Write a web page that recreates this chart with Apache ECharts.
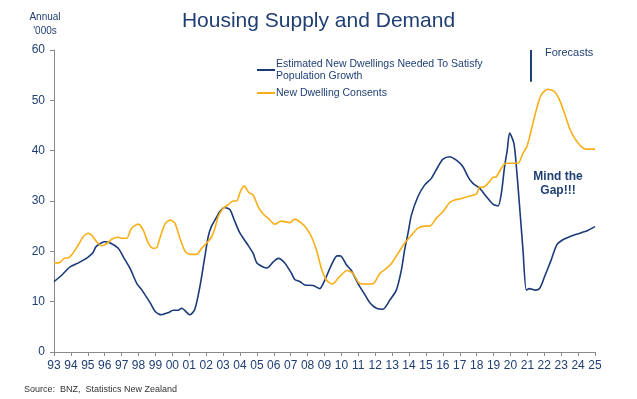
<!DOCTYPE html>
<html>
<head>
<meta charset="utf-8">
<script src="https://cdn.jsdelivr.net/npm/echarts@6.0.0/dist/echarts.min.js"></script>
<style>
  html, body { margin: 0; padding: 0; background: #fff; }
  #chart { width: 637px; height: 399px; }
</style>
</head>
<body>
<div id="chart"></div>
<script>
// Housing supply vs demand, NZ (annual, '000s)
const needName = 'Estimated New Dwellings Needed To Satisfy Population Growth';
const consentName = 'New Dwelling Consents';

const needYears = [
  1993.0, 1993.5, 1993.95, 1994.5, 1995.0, 1995.3, 1995.5, 1996.0, 1996.3, 1996.8,
  1997.1, 1997.5, 1997.9, 1998.2, 1998.7, 1999.0, 1999.35, 1999.75, 2000.05, 2000.35,
  2000.55, 2001.04, 2001.33, 2001.63, 2001.92, 2002.12, 2002.32, 2002.62, 2002.81, 2003.1,
  2003.4, 2003.7, 2004.0, 2004.4, 2004.78, 2005.0, 2005.37, 2005.6, 2005.97, 2006.26,
  2006.65, 2007.05, 2007.24, 2007.54, 2007.84, 2008.33, 2008.72, 2009.02, 2009.41, 2009.74,
  2009.94, 2010.3, 2010.59, 2010.98, 2011.37, 2011.68, 2012.07, 2012.46, 2012.86, 2013.25,
  2013.55, 2013.74, 2013.94, 2014.14, 2014.53, 2014.93, 2015.32, 2015.71, 2016.01, 2016.4,
  2016.8, 2017.19, 2017.49, 2017.78, 2018.18, 2018.57, 2018.96, 2019.26, 2019.46, 2019.65,
  2019.81, 2019.95, 2020.2, 2020.35, 2020.54, 2020.74, 2020.94, 2021.13, 2021.43, 2021.72,
  2022.02, 2022.41, 2022.74, 2023.1, 2023.5, 2024.1, 2024.6, 2025.0
];
const needValues = [
  14.0, 15.4, 16.9, 17.8, 18.8, 19.7, 21.0, 21.9, 21.7, 20.6,
  18.9, 16.6, 13.6, 12.3, 9.7, 8.0, 7.4, 7.8, 8.3, 8.3,
  8.7, 7.4, 8.5, 13.0, 18.9, 22.9, 25.0, 26.8, 27.9, 28.7,
  28.3, 25.9, 23.6, 21.6, 19.6, 17.7, 16.9, 16.7, 17.9, 18.6,
  17.7, 15.6, 14.4, 14.0, 13.3, 13.2, 12.6, 14.3, 17.3, 19.1,
  19.1, 17.3, 16.2, 13.6, 11.5, 9.8, 8.7, 8.5, 10.3, 12.3,
  16.3, 20.3, 23.6, 27.2, 30.9, 33.2, 34.5, 36.8, 38.3, 38.8,
  38.1, 36.8, 34.8, 33.5, 32.5, 30.9, 29.4, 29.0, 31.5, 36.8,
  40.1, 43.5, 41.5, 36.8, 28.9, 20.3, 12.3, 12.6, 12.3, 12.6,
  15.0, 18.3, 21.3, 22.3, 22.9, 23.6, 24.2, 24.9
];

const consentYears = [
  1993.0, 1993.35, 1993.6, 1993.85, 1994.05, 1994.44, 1994.73, 1995.03, 1995.23, 1995.52,
  1995.82, 1996.11, 1996.41, 1996.8, 1997.0, 1997.3, 1997.59, 1997.98, 1998.28, 1998.57,
  1998.87, 1999.07, 1999.26, 1999.56, 1999.86, 2000.15, 2000.45, 2000.74, 2001.04, 2001.43,
  2001.73, 2002.02, 2002.32, 2002.52, 2002.71, 2003.0, 2003.3, 2003.6, 2003.8, 2004.03,
  2004.25, 2004.52, 2004.78, 2005.07, 2005.37, 2005.66, 2006.06, 2006.45, 2006.95, 2007.24,
  2007.64, 2007.93, 2008.23, 2008.52, 2008.82, 2009.11, 2009.47, 2009.9, 2010.33, 2010.69,
  2011.08, 2011.58, 2011.9, 2012.27, 2012.66, 2012.96, 2013.35, 2013.74, 2014.14, 2014.53,
  2014.93, 2015.22, 2015.62, 2016.01, 2016.4, 2016.7, 2017.0, 2017.29, 2017.59, 2017.99,
  2018.18, 2018.37, 2018.67, 2018.96, 2019.16, 2019.46, 2019.71, 2020.44, 2020.74, 2020.97,
  2021.23, 2021.53, 2021.82, 2022.21, 2022.61, 2022.9, 2023.2, 2023.5, 2023.79, 2024.19,
  2024.48, 2025.0
];
const consentValues = [
  17.7, 17.8, 18.6, 18.7, 19.3, 21.3, 22.9, 23.6, 23.2, 21.9,
  21.1, 21.5, 22.4, 22.8, 22.6, 22.6, 24.6, 25.4, 24.2, 21.7,
  20.6, 20.7, 22.6, 25.4, 26.2, 25.6, 22.6, 20.1, 19.4, 19.4,
  20.6, 21.6, 22.9, 24.6, 26.9, 28.5, 29.3, 30.0, 30.0, 31.9,
  33.0, 31.7, 31.2, 28.9, 27.4, 26.6, 25.4, 26.0, 25.7, 26.4,
  25.6, 24.6, 22.9, 20.3, 16.6, 14.3, 13.5, 15.0, 16.2, 15.6,
  13.6, 13.5, 13.6, 15.6, 16.6, 17.6, 19.6, 21.6, 23.2, 24.6,
  25.0, 25.0, 26.6, 27.9, 29.7, 30.2, 30.4, 30.7, 31.0, 31.4,
  32.8, 32.7, 33.5, 34.7, 34.8, 36.5, 37.5, 37.5, 39.5, 40.8,
  44.1, 48.1, 51.1, 52.2, 51.7, 50.1, 47.4, 44.4, 42.5, 40.8,
  40.3, 40.3
];

// forecast divider (year, from, to)
const forecastMark = [2021.18, 53.7, 60];

const navy = '#1F3F73';
const blue = '#1B3A7A';
const orange = '#F8AE16';
const font = '"Liberation Sans", Arial, sans-serif';

const zip = (xs, ys) => xs.map((x, i) => [x, ys[i]]);

const chart = echarts.init(document.getElementById('chart'));

chart.setOption({
  backgroundColor: '#fff',
  animation: false,
  textStyle: { fontFamily: font },
  title: {
    text: 'Housing Supply and Demand',
    left: 'center',
    top: 11,
    padding: 0,
    textStyle: { color: navy, fontSize: 21, fontWeight: 'normal', fontFamily: font }
  },
  legend: {
    orient: 'vertical',
    left: 256,
    top: 58,
    padding: 0,
    itemWidth: 18,
    itemHeight: 2,
    itemGap: 5,
    textStyle: { color: navy, fontSize: 10.5, fontFamily: font, lineHeight: 12, padding: [0, 0, 0, -4] },
    formatter: name => name === needName
      ? 'Estimated New Dwellings Needed To Satisfy\nPopulation Growth'
      : name,
    data: [needName, consentName]
  },
  grid: { left: 54, right: 42, top: 50, bottom: 47 },
  xAxis: {
    type: 'value',
    min: 1993,
    max: 2025,
    interval: 1,
    splitLine: { show: false },
    axisLine: { show: true, lineStyle: { color: '#8a8a8a', width: 1 } },
    axisTick: { show: true, length: 4, lineStyle: { color: '#8a8a8a' } },
    axisLabel: {
      color: navy,
      fontSize: 12,
      margin: 8,
      formatter: v => String(Math.round(v) % 100).padStart(2, '0')
    }
  },
  yAxis: {
    type: 'value',
    min: 0,
    max: 60,
    interval: 10,
    splitLine: { show: false },
    axisLine: { show: true, lineStyle: { color: '#8a8a8a', width: 1 } },
    axisTick: { show: true, length: 4, lineStyle: { color: '#8a8a8a' } },
    axisLabel: { color: navy, fontSize: 12, margin: 9 }
  },
  series: [
    {
      name: needName,
      type: 'line',
      data: zip(needYears, needValues),
      symbol: 'none',
      smooth: 0.25,
      lineStyle: { color: blue, width: 1.6 },
      itemStyle: { color: blue },
      markLine: {
        silent: true,
        symbol: 'none',
        label: { show: false },
        lineStyle: { color: navy, width: 2, type: 'solid' },
        data: [[
          { coord: [forecastMark[0], forecastMark[1]] },
          { coord: [forecastMark[0], forecastMark[2]] }
        ]]
      }
    },
    {
      name: consentName,
      type: 'line',
      data: zip(consentYears, consentValues),
      symbol: 'none',
      smooth: 0.25,
      lineStyle: { color: orange, width: 1.6 },
      itemStyle: { color: orange }
    }
  ],
  graphic: [
    {
      type: 'text', x: 45, y: 10,
      style: {
        text: "Annual\n'000s", fill: navy, font: '10px ' + font,
        align: 'center', verticalAlign: 'top', lineHeight: 14
      }
    },
    {
      type: 'text', x: 545, y: 47,
      style: { text: 'Forecasts', fill: navy, font: '11px ' + font, verticalAlign: 'top' }
    },
    {
      type: 'text', x: 558, y: 170,
      style: {
        text: 'Mind the\nGap!!!', fill: navy, font: 'bold 12px ' + font,
        align: 'center', verticalAlign: 'top', lineHeight: 14
      }
    },
    {
      type: 'text', x: 24, y: 385,
      style: { text: 'Source:  BNZ,  Statistics New Zealand', fill: '#333', font: '9px ' + font, verticalAlign: 'top' }
    }
  ]
});

window.addEventListener('resize', () => chart.resize());
</script>
</body>
</html>
